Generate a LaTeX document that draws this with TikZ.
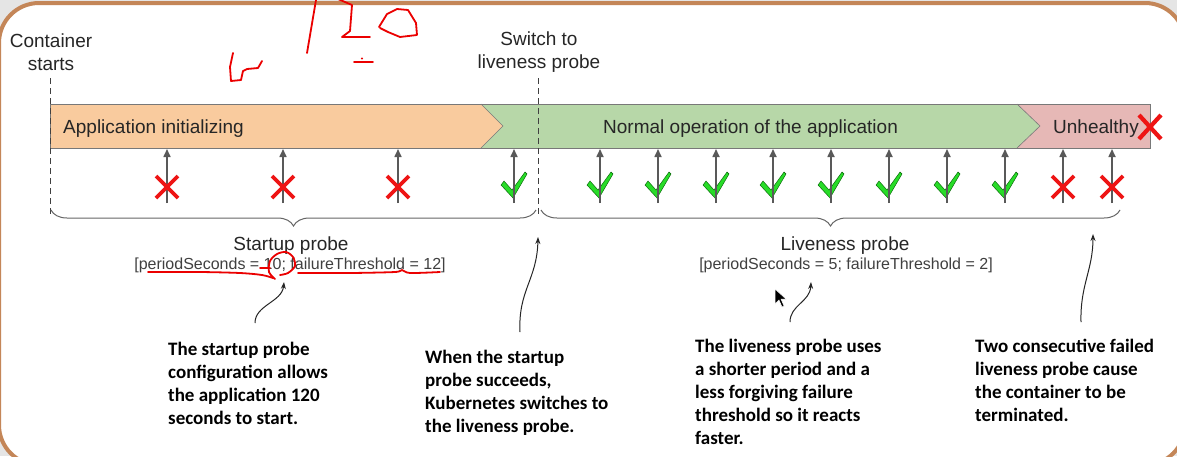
\documentclass[tikz,border=0pt]{standalone}
\usepackage{fontspec}
\setmainfont{Liberation Sans}
\newfontfamily\annfont{Carlito}
\usetikzlibrary{decorations.pathreplacing,arrows.meta}
\definecolor{frameC}{RGB}{196,134,88}
\definecolor{initC}{RGB}{249,203,158}
\definecolor{okC}{RGB}{183,215,168}
\definecolor{badC}{RGB}{230,184,182}
\definecolor{barL}{RGB}{120,120,120}
\definecolor{chkC}{RGB}{40,220,40}
\definecolor{xC}{RGB}{238,20,20}
\definecolor{inkC}{RGB}{235,0,0}
\begin{document}
\begin{tikzpicture}[x=1pt,y=-1pt,
  lbl/.style={font=\fontsize{19}{23}\selectfont, text=black!85, inner sep=0pt, align=center},
  cfg/.style={font=\fontsize{16}{19}\selectfont, text=black!75, inner sep=0pt},
  ann/.style={font=\annfont\bfseries\fontsize{19}{23}\selectfont, align=left, inner sep=0pt, anchor=north west},
  probe/.style={draw=black!65, line width=1.6pt, -{Triangle[length=8pt,width=7pt]}},
  failx/.style={draw=xC, line width=3.8pt},
  chk/.style={fill=chkC, draw=green!35!black, line width=0.4pt},
  brc/.style={decorate, decoration={brace, mirror, amplitude=16pt}, draw=black!60, line width=1pt},
  dline/.style={draw=black!75, line width=1pt, dash pattern=on 6pt off 4pt},
  callout/.style={draw=black!85, line width=1pt, -{Stealth[length=7pt,width=5pt]}},
  ink/.style={draw=inkC, line width=1.8pt, line cap=round, line join=round}]
\useasboundingbox (0,0) rectangle (1177,456);
% frame
\fill[black!10] (0,0) rectangle (1177,456);
\draw[line width=4pt, draw=frameC, fill=white, rounded corners=40pt] (-1,3) rectangle (1185,465);

% bar
\fill[initC] (50,104) -- (481,104) -- (503,126) -- (481,148) -- (50,148) -- cycle;
\fill[okC] (481,104) -- (1017,104) -- (1040,126) -- (1017,148) -- (481,148) -- (503,126) -- cycle;
\fill[badC] (1017,104) -- (1150,104) -- (1150,148) -- (1017,148) -- (1040,126) -- cycle;
\draw[barL, line width=0.6pt] (481,104) -- (503,126) -- (481,148);
\draw[barL, line width=0.6pt] (1017,104) -- (1040,126) -- (1017,148);
\draw[barL, line width=1pt] (50,104) rectangle (1150,148);

\node[lbl, anchor=base west] (init) at (63,133) {Application initializing};
\node[lbl, anchor=base west] (normal) at (603,133) {Normal operation of the application};
\node[lbl, anchor=base west] (unh) at (1053,133) {Unhealthy};
\draw[failx, line width=4.2pt] (1139,115) -- (1161,139) (1139,139) -- (1161,115);

% dashed markers
\node[lbl] (cs) at (51,52) {Container\\starts};
\node[lbl] (sw) at (539,52) {Switch to\\liveness probe};
\coordinate (csb) at (50,214);
\coordinate (swb) at (538,214);
\draw[dline] (50,78) -- (csb);
\draw[dline] (538,78) -- (swb);

% probes
\foreach \x/\n in {514/s4,600/l1,658/l2,716/l3,773/l4,831/l5,889/l6,947/l7,1005/l8}{
  \fill[chk] (\x-13,185) -- (\x-10,181) -- (\x-2,190) -- (\x+11,172) -- (\x+13,174) -- (\x-1,198) -- cycle;
  \coordinate (\n b) at (\x,203);
  \coordinate (\n t) at (\x,149);
  \draw[probe] (\n b) -- (\n t);
}
\foreach \x/\n in {167/s1,283/s2,398/s3,1063/f1,1112/f2}{
  \coordinate (\n b) at (\x,203);
  \coordinate (\n t) at (\x,149);
  \draw[probe] (\n b) -- (\n t);
  \draw[failx] (\x-11,176) -- (\x+11,198) (\x-11,198) -- (\x+11,176);
}

% braces
\draw[brc] (51,210) -- (536,210);
\draw[brc] (541,210) -- (1120,210);

\node[lbl, anchor=base] (sp) at (291,250) {Startup probe};
\node[cfg, anchor=base] (spc) at (290,269) {[periodSeconds = 10; failureThreshold = 12]};
\node[lbl, anchor=base] (lp) at (845,250) {Liveness probe};
\node[cfg, anchor=base] (lpc) at (846,269) {[periodSeconds = 5; failureThreshold = 2]};

% annotations
\node[ann] (a1) at (168,342) {The startup probe\\configuration allows\\the application 120\\seconds to start.};
\node[ann] (a2) at (425,350) {When the startup\\probe succeeds,\\Kubernetes switches to\\the liveness probe.};
\node[ann] (a3) at (695,339) {The liveness probe uses\\a shorter period and a\\less forgiving failure\\threshold so it reacts\\faster.};
\node[ann] (a4) at (975,339) {Two consecutive failed\\liveness probe cause\\the container to be\\terminated.};

\coordinate (c1s) at (255,323); \coordinate (c1e) at (284,282);
\coordinate (c2s) at (520,332); \coordinate (c2e) at (538,237);
\coordinate (c3s) at (790,322); \coordinate (c3e) at (811,282);
\coordinate (c4s) at (1081,322); \coordinate (c4e) at (1093,234);
\draw[callout] (c1s) .. controls (255,305) and (282,302) .. (c1e);
\draw[callout] (c2s) .. controls (518,290) and (537,280) .. (c2e);
\draw[callout] (c3s) .. controls (790,305) and (810,302) .. (c3e);
\draw[callout] (c4s) .. controls (1080,285) and (1093,270) .. (c4e);

% mouse cursor
\fill[black, draw=white, line width=0.5pt] (775,289) -- (775,304) -- (779,300) -- (782,307) -- (784,306) -- (781,299) -- (786,299) -- cycle;

% red handwriting
\draw[ink] (307,53) -- (316,0);
\draw[ink] (338,-1) -- (352,5) -- (350,31) -- (342,37) -- (370,37);
\draw[ink] (379,27) -- (387,14) -- (397,9) -- (408,10) -- (416,23) -- (417,35) -- (400,37) -- (388,32) -- (380,28);
\draw[ink] (354,62) -- (373,62);
\fill[inkC] (362,58.5) circle (1.2pt);
\draw[ink] (233,53) -- (230,67) -- (231,81) -- (241,80) -- (243,71) -- (247,69) -- (258,68) -- (262,61);
\draw[ink] plot[smooth] coordinates {(148,272) (200,272) (240,273) (262,275) (273,278)};
\draw[ink] (260,268) -- (270,268);
\draw[ink] plot[smooth] coordinates {(275,279) (269,272) (270,261) (277,254) (286,252) (293,257) (295,266) (288,273) (280,275)};
\draw[ink] plot[smooth] coordinates {(298,273) (350,273) (395,272) (402,270) (410,273) (440,272)};
\end{tikzpicture}
\end{document}
